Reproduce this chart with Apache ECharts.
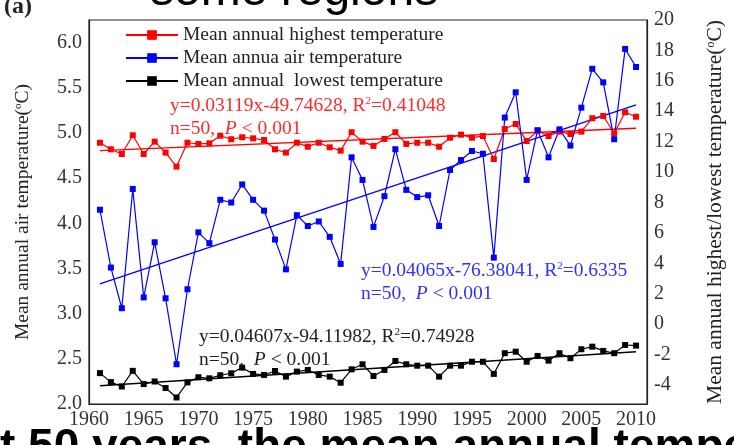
<!DOCTYPE html>
<html>
<head>
<meta charset="utf-8">
<script src="https://cdn.jsdelivr.net/npm/echarts@6/dist/echarts.min.js"></script>
<style>
html,body{margin:0;padding:0;background:#fff;}
#chart{width:734px;height:445px;}
</style>
</head>
<body>
<div id="chart"></div>
<script>
const years = [1961,1962,1963,1964,1965,1966,1967,1968,1969,1970,
  1971,1972,1973,1974,1975,1976,1977,1978,1979,1980,
  1981,1982,1983,1984,1985,1986,1987,1988,1989,1990,
  1991,1992,1993,1994,1995,1996,1997,1998,1999,2000,
  2001,2002,2003,2004,2005,2006,2007,2008,2009,2010];

const highest = [11.93,11.50,11.19,12.42,11.19,12.00,11.28,10.36,11.93,11.85,
  11.89,12.39,12.16,12.29,12.22,12.11,11.50,11.28,11.93,11.67,
  11.93,11.63,11.41,12.62,12.00,11.72,12.18,12.62,11.85,11.93,
  11.93,11.67,12.26,12.46,12.26,12.37,10.86,12.83,13.16,12.04,
  12.72,12.37,12.66,12.50,12.66,13.54,13.69,12.55,13.93,13.64];

const airTemp = [4.15,3.51,3.06,4.38,3.18,3.79,3.17,2.44,3.27,3.90,
  3.78,4.26,4.23,4.43,4.26,4.14,3.82,3.49,4.09,3.97,
  4.02,3.85,3.55,4.73,4.48,3.96,4.30,4.82,4.37,4.29,
  4.31,3.97,4.59,4.70,4.80,4.77,3.62,5.17,5.45,4.48,
  5.03,4.73,5.04,4.86,5.28,5.71,5.56,4.93,5.93,5.73];

const lowest = [-3.22,-3.81,-4.10,-3.07,-3.94,-3.77,-4.20,-4.82,-3.83,-3.49,
  -3.56,-3.36,-3.23,-2.86,-3.27,-3.34,-3.08,-3.45,-3.12,-3.01,
  -3.34,-3.45,-3.85,-2.97,-2.64,-3.41,-3.01,-2.42,-2.64,-2.73,
  -2.73,-3.45,-2.73,-2.73,-2.47,-2.47,-3.27,-1.91,-1.81,-2.47,
  -2.09,-2.40,-1.91,-2.24,-1.65,-1.48,-1.76,-1.91,-1.37,-1.41];

const trendYears = [1961, 2010];
const highTrend = [11.41, 12.88];
const airTrend = [3.33, 5.31];
const lowTrend = [-4.05, -1.81];

const xTicks = [1960,1965,1970,1975,1980,1985,1990,1995,2000,2005,2010];
const leftTicks = [2.0,2.5,3.0,3.5,4.0,4.5,5.0,5.5,6.0];
const rightTicks = [-4,-2,0,2,4,6,8,10,12,14,16,18,20];

const names = ['Mean annual highest temperature','Mean annua air temperature','Mean annual  lowest temperature'];

const pair = (xs, ys) => xs.map((x, i) => [x, ys[i]]);

const SERIF = '"Liberation Serif", "Times New Roman", serif';
const RED = '#ff0000', BLUE = '#0000ff', BLACK = '#000000';

const chart = echarts.init(document.getElementById('chart'), null, {renderer: 'canvas'});

function lineSeries(name, data, color, yIdx) {
  return {
    name: name, type: 'line', yAxisIndex: yIdx, data: data,
    symbol: 'rect', symbolSize: 6, showSymbol: true,
    lineStyle: {color: color, width: 1.2},
    itemStyle: {color: color},
    emphasis: {disabled: true}, animation: false, z: 3
  };
}
function trendSeries(data, color, yIdx) {
  return {
    type: 'line', yAxisIndex: yIdx, data: data, symbol: 'none',
    lineStyle: {color: color, width: 1.4}, emphasis: {disabled: true},
    animation: false, z: 2
  };
}

const AF = 19.5;
const annoRich = (color) => ({
  a: {fontFamily: SERIF, fontSize: AF, fill: color},
  s: {fontFamily: SERIF, fontSize: 11, fill: color, padding: [0, 0, 9, 0]},
  i: {fontFamily: SERIF, fontSize: AF, fontStyle: 'italic', fill: color}
});

function anno(x, y, text, color) {
  return {
    type: 'text', left: x, top: y, z: 10,
    style: {text: text, rich: annoRich(color), fill: color}
  };
}

const nameRich = (size) => ({
  a: {fontFamily: SERIF, fontSize: size, color: '#222'},
  s: {fontFamily: SERIF, fontSize: Math.round(size * 0.55), color: '#222', padding: [0, 0, 9, 0]}
});

const option = {
  backgroundColor: '#ffffff',
  animation: false,
  grid: {left: 89, right: 79, top: 20, bottom: 41, show: true, borderColor: '#222', borderWidth: 1.2, containLabel: false},
  legend: {
    data: names, orient: 'vertical', left: 120, top: 20, itemGap: 3,
    itemWidth: 52, itemHeight: 12,
    textStyle: {fontFamily: SERIF, fontSize: 19.5, color: '#222'},
    selectedMode: false
  },
  xAxis: {
    type: 'value', min: 1960, max: 2011,
    axisLine: {show: true, onZero: false, lineStyle: {color: '#222', width: 1.2}},
    axisTick: {show: false}, splitLine: {show: false},
    axisLabel: {customValues: xTicks, formatter: v => String(v), fontFamily: SERIF, fontSize: 20, color: '#333', margin: 6}
  },
  yAxis: [
    {
      type: 'value', min: 2.0, max: 6.25, position: 'left',
      axisLine: {show: true, onZero: false, lineStyle: {color: '#222', width: 1.2}},
      axisTick: {show: false}, splitLine: {show: false},
      axisLabel: {customValues: leftTicks, formatter: v => v.toFixed(1), fontFamily: SERIF, fontSize: 20, color: '#333', margin: 7},
      name: '{a|Mean annual air temperature(}{s|o}{a|C)}',
      nameLocation: 'middle', nameRotate: 90, nameGap: 56,
      nameTextStyle: {rich: nameRich(19.5)}
    },
    {
      type: 'value', min: -5.25, max: 20, position: 'right',
      axisLine: {show: true, onZero: false, lineStyle: {color: '#222', width: 1.2}},
      axisTick: {show: false}, splitLine: {show: false},
      axisLabel: {customValues: rightTicks, fontFamily: SERIF, fontSize: 20, color: '#333', margin: 7},
      name: '{a|Mean annual highest/lowest temperature(}{s|o}{a|C)}',
      nameLocation: 'middle', nameRotate: 90, nameGap: 57,
      nameTextStyle: {rich: nameRich(21.5)}
    }
  ],
  series: [
    trendSeries(pair(trendYears, highTrend), RED, 1),
    trendSeries(pair(trendYears, airTrend), BLUE, 0),
    trendSeries(pair(trendYears, lowTrend), BLACK, 1),
    lineSeries(names[0], pair(years, highest), RED, 1),
    lineSeries(names[1], pair(years, airTemp), BLUE, 0),
    lineSeries(names[2], pair(years, lowest), BLACK, 1)
  ],
  graphic: [
    anno(170, 96, '{a|y=0.03119x-49.74628, R}{s|2}{a|=0.41048}', '#ff2a2a'),
    anno(170, 119, '{a|n=50,  }{i|P}{a| < 0.001}', '#ff2a2a'),
    anno(361, 261, '{a|y=0.04065x-76.38041, R}{s|2}{a|=0.6335}', '#3030ff'),
    anno(361, 284, '{a|n=50,  }{i|P}{a| < 0.001}', '#3030ff'),
    anno(199, 327, '{a|y=0.04607x-94.11982, R}{s|2}{a|=0.74928}', '#222'),
    anno(199, 350, '{a|n=50,  }{i|P}{a| < 0.001}', '#222'),
    {type: 'text', left: 4, top: -5, z: 10,
     style: {text: '(a)', font: 'bold 24px "Liberation Serif"', fill: '#222'}},
    {type: 'text', left: 150, top: -32, z: 0,
     style: {text: 'some regions', font: '48px "Liberation Sans"', fill: '#000'}},
    {type: 'text', left: 0, top: 425, z: 0,
     style: {text: 't 50 years, the mean annual temperature has', font: 'bold 46px "Liberation Sans"', fill: '#000'}}
  ]
};
chart.setOption(option);
</script>
</body>
</html>
